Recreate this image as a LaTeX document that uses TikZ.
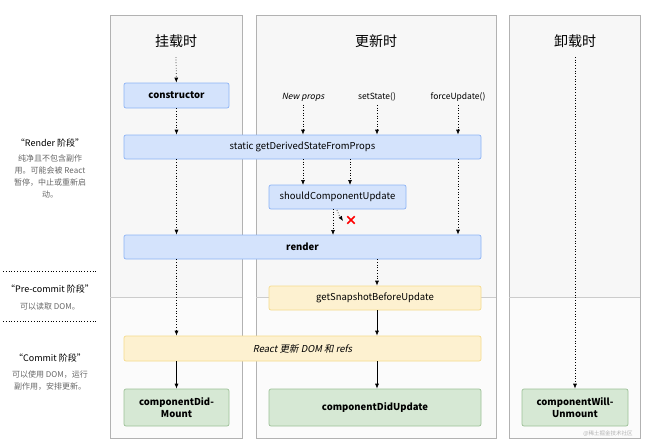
\documentclass[tikz,border=0pt]{standalone}
\usepackage{fontspec}
\setmainfont{Noto Sans CJK SC}[AutoFakeSlant=0.2]
\usetikzlibrary{arrows.meta}
\definecolor{panelgray}{HTML}{F7F7F7}
\definecolor{blueface}{HTML}{D4E3FC}
\definecolor{blueline}{HTML}{8DB3F5}
\definecolor{yellowface}{HTML}{FDF1D0}
\definecolor{yellowline}{HTML}{F5DB8C}
\definecolor{greenface}{HTML}{D6E8D4}
\definecolor{greenline}{HTML}{9CC197}
\tikzset{
  hook/.style={draw=blueline, fill=blueface, rounded corners=2pt, line width=0.7pt, font=\fontsize{9.5}{11}\selectfont},
  snap/.style={hook, draw=yellowline, fill=yellowface},
  done/.style={hook, draw=greenline, fill=greenface, font=\fontsize{9.5}{12}\selectfont\bfseries, align=center},
  flow/.style={dotted, line width=0.7pt, -{Latex[length=5pt,width=4pt]}},
  solid flow/.style={line width=0.7pt, -{Latex[length=5pt,width=4pt]}},
  note/.style={font=\fontsize{8}{12}\selectfont, text=gray!80!black, align=center},
  stage/.style={font=\fontsize{9}{11}\selectfont}
}
\begin{document}
\begin{tikzpicture}[x=1pt,y=-1pt]
  \useasboundingbox (0,0) rectangle (650,440);
  % panels
  \foreach \xa/\xb in {110/242, 256/496, 509/640}{
    \fill[panelgray] (\xa,15) rectangle (\xb,297);
    \fill[white!97!gray] (\xa,297) rectangle (\xb,438);
    \draw[gray!60, line width=0.6pt] (\xa,15) rectangle (\xb,438);
    \draw[gray!40, line width=0.6pt] (\xa,297) -- (\xb,297);
  }
  \node (mount) at (176,41) {\fontsize{14}{16}\selectfont 挂载时};
  \node (update) at (376,41) {\fontsize{14}{16}\selectfont 更新时};
  \node (unmount) at (575,41) {\fontsize{14}{16}\selectfont 卸载时};
  % boxes
  \node[hook, font=\fontsize{9.5}{11}\selectfont\bfseries, minimum width=105pt, minimum height=25pt] (ctor) at (176.5,95.5) {constructor};
  \node[hook, minimum width=357pt, minimum height=24pt] (gdsfp) at (302.5,147) {static getDerivedStateFromProps};
  \node[hook, minimum width=137pt, minimum height=24pt] (scu) at (337.5,197) {shouldComponentUpdate};
  \node[hook, font=\fontsize{9.5}{11}\selectfont\bfseries, minimum width=357pt, minimum height=24pt] (render) at (302.5,247) {render};
  \node[snap, minimum width=212pt, minimum height=24pt] (snapshot) at (375,298) {getSnapshotBeforeUpdate};
  \node[snap, font=\fontsize{9.5}{11}\selectfont\itshape, minimum width=357pt, minimum height=25pt] (dom) at (302.5,348.5) {React 更新 DOM 和 refs};
  \node[done, minimum width=105pt, minimum height=37pt] (didmount) at (176.5,407.5) {componentDid-\\Mount};
  \node[done, minimum width=212pt, minimum height=37pt] (didupdate) at (375,407.5) {componentDidUpdate};
  \node[done, minimum width=106pt, minimum height=37pt] (willunmount) at (575,407.5) {componentWill-\\Unmount};
  % triggers
  \node[font=\fontsize{8.5}{10}\selectfont\itshape] (props) at (303,97) {New props};
  \node[font=\fontsize{8.5}{10}\selectfont] (setstate) at (377,97) {setState()};
  \node[font=\fontsize{8.5}{10}\selectfont] (force) at (458,97) {forceUpdate()};
  \coordinate (mtop) at (176,57);
  \coordinate (utop) at (575,57);
  \node[minimum size=7pt, inner sep=0pt] (stop) at (351,220) {};
  \draw[red, line width=1.6pt] (stop.north west) -- (stop.south east) (stop.north east) -- (stop.south west);
  % arrows
  \draw[flow] (mtop) -- (ctor);
  \draw[flow] (ctor) -- (ctor |- gdsfp.north);
  \draw[flow] (props) -- (props |- gdsfp.north);
  \draw[flow] (setstate) -- (setstate |- gdsfp.north);
  \draw[flow] (force) -- (force |- gdsfp.north);
  \draw[flow] (ctor |- gdsfp.south) -- (ctor |- render.north);
  \draw[flow] (force |- gdsfp.south) -- (force |- render.north);
  \draw[flow] (303,159) -- (303,185);
  \draw[flow] (350,159) -- (350,185);
  \draw[flow] (333,209) -- (333,235);
  \draw[flow] (337,210) -- (339,215) -- (343,221);
  \draw[flow] (render.south -| setstate) -- (snapshot.north -| setstate);
  \draw[solid flow] (snapshot.south -| setstate) -- (dom.north -| setstate);
  \draw[solid flow] (dom.south -| setstate) -- (didupdate.north -| setstate);
  \draw[flow] (ctor |- render.south) -- (ctor |- dom.north);
  \draw[solid flow] (ctor |- dom.south) -- (didmount);
  \draw[flow] (utop) -- (willunmount);
  % stages
  \node[stage] (renderstage) at (50,143) {“Render 阶段”};
  \node[note, anchor=north] (rendernote) at (50,151) {纯净且不包含副作\\用。可能会被 React\\暂停，中止或重新启\\动。};
  \coordinate (sep1a) at (3,271);
  \coordinate (sep1b) at (97,271);
  \coordinate (sep2a) at (3,321);
  \coordinate (sep2b) at (97,321);
  \draw[dotted, line width=0.8pt] (sep1a) -- (sep1b);
  \draw[dotted, line width=0.8pt] (sep2a) -- (sep2b);
  \node[stage] (prestage) at (50,289) {“Pre-commit 阶段”};
  \node[note] (prenote) at (50,306) {可以读取 DOM。};
  \node[stage] (commitstage) at (50,358) {“Commit 阶段”};
  \node[note, anchor=north] (commitnote) at (50,367) {可以使用 DOM，运行\\副作用，安排更新。};
  \node[font=\fontsize{5.5}{6}\selectfont, text=gray!60] (mark) at (608,434) {@稀土掘金技术社区};
\end{tikzpicture}
\end{document}
